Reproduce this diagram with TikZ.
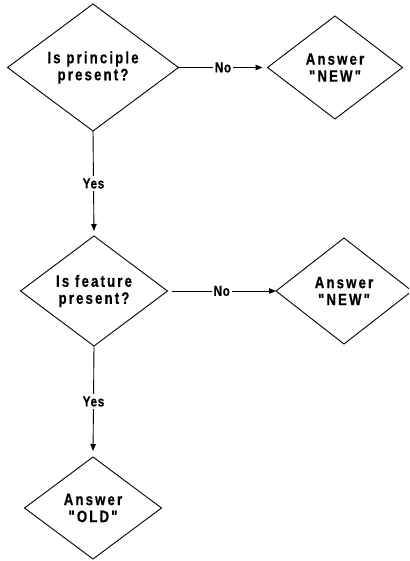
\documentclass[tikz,border=0pt]{standalone}
\usepackage{fontspec}
\newfontfamily\dfont{Liberation Sans}[FakeStretch=0.8,LetterSpace=13,FakeBold=0.6]
\newfontfamily\lfont{Liberation Sans}[FakeStretch=0.8,LetterSpace=5,FakeBold=0.6]
\usetikzlibrary{shapes.geometric,arrows.meta}
\tikzset{
  dia/.style={diamond, draw, line width=0.9pt, inner sep=0pt, outer sep=0pt, aspect=1.5,
    align=center, font=\dfont\bfseries\fontsize{16.5pt}{17pt}\selectfont},
  conn/.style={line width=0.9pt, -{Triangle[length=7pt,width=5.5pt]}},
  lbl/.style={fill=white, inner sep=2pt, font=\lfont\bfseries\fontsize{14.5pt}{15pt}\selectfont}
}
\begin{document}
\begin{tikzpicture}[x=1pt,y=-1pt]
\useasboundingbox (0,0) rectangle (409,561);
\clip (0,0) rectangle (409,561);
\node[dia, minimum width=171pt, minimum height=127pt] (d1) at (93,67.5) {Is principle\\present?};
\node[dia, minimum width=135pt, minimum height=103pt] (a1) at (335,67.5) {Answer\\"NEW"};
\node[dia, minimum width=147pt, minimum height=110pt] (d2) at (94,291) {Is feature\\present?};
\node[dia, minimum width=136pt, minimum height=106pt] (a2) at (344,291) {Answer\\"NEW"};
\node[dia, minimum width=137pt, minimum height=102pt] (a3) at (93,508) {Answer\\"OLD"};
\draw[conn, shorten >=5pt] (d1.east) -- node[lbl] {No} (a1.west);
\draw[conn, shorten >=5pt] (d1.south) -- node[lbl] {Yes} (d2.north);
\draw[conn, shorten <=4pt] (d2.east) -- node[lbl] {No} (a2.west);
\draw[conn, shorten >=6pt] (d2.south) -- node[lbl] {Yes} (a3.north);
\end{tikzpicture}
\end{document}
